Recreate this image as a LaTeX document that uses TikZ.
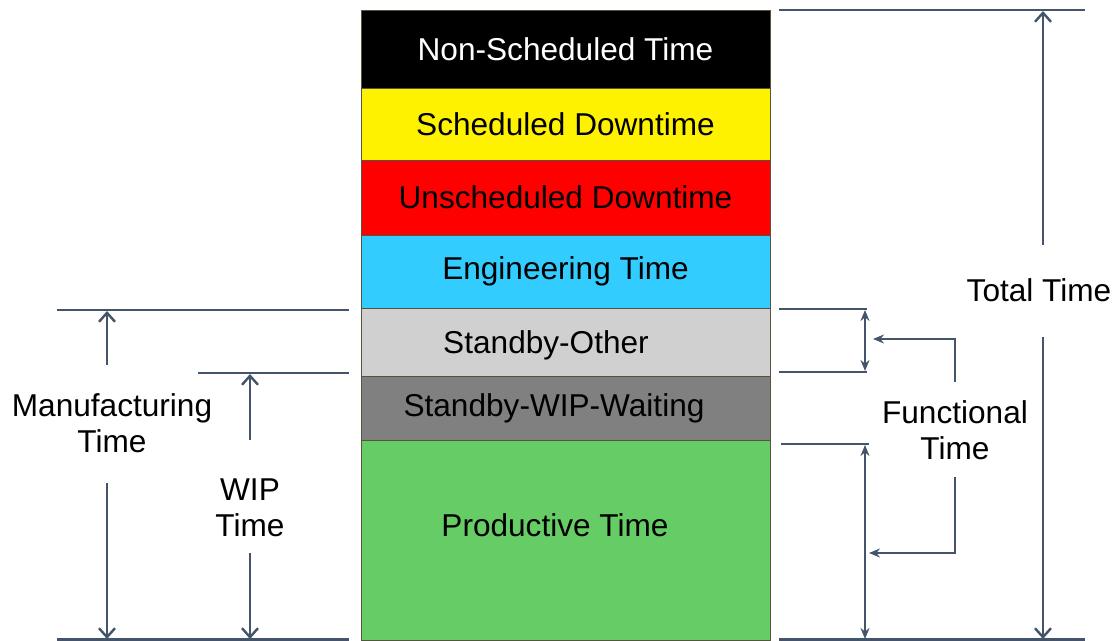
\documentclass[tikz,border=0pt]{standalone}
\usepackage{fontspec}
\setmainfont{Liberation Sans}
\usepackage{tikz}
\usetikzlibrary{arrows.meta}
\definecolor{dimblue}{HTML}{44546A}
\definecolor{bandcyan}{HTML}{33CCFF}
\definecolor{bandgreen}{HTML}{66CC66}
\definecolor{bandlight}{HTML}{D0D0D0}
\definecolor{banddark}{HTML}{808080}

\begin{document}
\begin{tikzpicture}[x=0.5pt, y=-0.5pt,
	band/.style={draw=black!60!yellow!60!black, line width=0.4pt, minimum width=204.5pt, inner sep=0pt, font=\fontsize{15.8}{18}\selectfont},
	tag/.style={align=center, inner sep=0pt, font=\fontsize{15.8}{18}\selectfont},
	extline/.style={draw=dimblue, line width=1.2pt},
	openarrow/.style={draw=dimblue, line width=1.2pt, -{Straight Barb[length=4.5pt,width=8pt,line width=1.2pt]}},
	solidarrow/.style={draw=dimblue, line width=1.2pt, -{Stealth[length=5.5pt,width=4.5pt]}},
	twoarrow/.style={draw=dimblue, line width=1.2pt, {Stealth[length=5.5pt,width=4.5pt]}-{Stealth[length=5.5pt,width=4.5pt]}}]
	\useasboundingbox (0,0) rectangle (1115,641);
	% the stacked bands
	\node [band, fill=black, text=white, minimum height=39pt] (nonsched) at (565.5,49) {Non-Scheduled Time};
	\node [band, fill=yellow, minimum height=36pt] (sched) at (565.5,124) {Scheduled Downtime};
	\node [band, fill=red, minimum height=37.5pt] (unsched) at (565.5,197.5) {Unscheduled Downtime};
	\node [band, fill=bandcyan, minimum height=36.5pt] (eng) at (565.5,271.5) {Engineering Time};
	\node [band, fill=bandlight, minimum height=34pt, label={[tag,xshift=-9.75pt,yshift=-1.5pt]center:Standby-Other}] (sbother) at (565.5,342) {};
	\node [band, fill=banddark, minimum height=32.5pt, label={[tag,xshift=-5.75pt]center:Standby-WIP-Waiting}] (sbwip) at (565.5,408.5) {};
	\node [band, fill=bandgreen, minimum height=100pt] (prod) at (565.5,540.5) {};
	\node [tag] (prodtxt) at (555,525) {Productive Time};
	% left side
	\coordinate (mfgL) at (57,310);
	\coordinate (mfgR) at (349,310);
	\coordinate (wipL) at (198,373);
	\coordinate (wipR) at (349,373);
	\coordinate (botL) at (57,639.5);
	\coordinate (botR) at (349,639.5);
	\draw [extline] (mfgL) -- (mfgR);
	\draw [extline] (wipL) -- (wipR);
	\draw [extline] (botL) -- (botR);
	\node [tag] (mfg) at (112,423) {Manufacturing\\Time};
	\node [tag] (wip) at (250,508) {WIP\\Time};
	\coordinate (mfgtop) at (107,311);
	\coordinate (mfgbot) at (107,639);
	\coordinate (mfgA) at (107,365);
	\coordinate (mfgB) at (107,483);
	\coordinate (wiptop) at (250,374);
	\coordinate (wipbot) at (250,639);
	\coordinate (wipA) at (250,440);
	\coordinate (wipB) at (250,553);
	\draw [openarrow] (mfgA) -- (mfgtop);
	\draw [openarrow] (mfgB) -- (mfgbot);
	\draw [openarrow] (wipA) -- (wiptop);
	\draw [openarrow] (wipB) -- (wipbot);
	% right side
	\coordinate (totL) at (779,10);
	\coordinate (totR) at (1085,10);
	\coordinate (rbotL) at (779,639.5);
	\coordinate (rbotR) at (1085,639.5);
	\coordinate (oth1L) at (779,309);
	\coordinate (oth1R) at (867,309);
	\coordinate (oth2L) at (779,372);
	\coordinate (oth2R) at (867,372);
	\coordinate (prdL) at (781,444);
	\coordinate (prdR) at (869,444);
	\draw [extline] (totL) -- (totR);
	\draw [extline] (rbotL) -- (rbotR);
	\draw [extline] (oth1L) -- (oth1R);
	\draw [extline] (oth2L) -- (oth2R);
	\draw [extline] (prdL) -- (prdR);
	\node [tag] (total) at (1039,290) {Total Time};
	\coordinate (totA) at (1043,245);
	\coordinate (totB) at (1043,337);
	\coordinate (tottop) at (1043,11);
	\coordinate (totbot) at (1043,639);
	\draw [openarrow] (totA) -- (tottop);
	\draw [openarrow] (totB) -- (totbot);
	\coordinate (othtop) at (865,310);
	\coordinate (othbot) at (865,371);
	\coordinate (prdtop) at (865,445);
	\coordinate (prdbot) at (865,639);
	\draw [twoarrow] (othtop) -- (othbot);
	\draw [twoarrow] (prdtop) -- (prdbot);
	\node [tag] (func) at (955,430) {Functional\\Time};
	\coordinate (funcA) at (955,382);
	\coordinate (funcB) at (955,477);
	\coordinate (funcup) at (873,339);
	\coordinate (funcdn) at (869,553);
	\draw [solidarrow] (funcA) |- (funcup);
	\draw [solidarrow] (funcB) |- (funcdn);
\end{tikzpicture}
\end{document}
